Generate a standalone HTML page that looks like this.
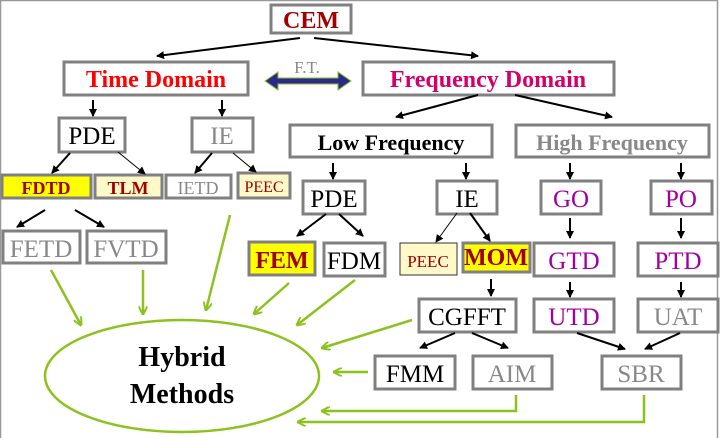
<!DOCTYPE html>
<html><head><meta charset="utf-8"><style>
html,body{margin:0;padding:0;background:#fff;width:720px;height:438px;overflow:hidden}
svg, svg text{font-family:"Liberation Serif","Times New Roman","DejaVu Serif","Noto Serif CJK SC",serif}
</style></head><body>
<svg width="720" height="438" viewBox="0 0 720 438" xmlns="http://www.w3.org/2000/svg">
<defs>
<marker id="a" markerWidth="8" markerHeight="8" refX="7" refY="4" orient="auto" markerUnits="userSpaceOnUse"><path d="M0,0 L8,4 L0,8 Z" fill="#000"/></marker>
<marker id="g" markerWidth="9" markerHeight="9" refX="8" refY="4.5" orient="auto" markerUnits="userSpaceOnUse"><path d="M0,0 L9,4.5 L0,9" fill="none" stroke="#8cc21e" stroke-width="2"/></marker>
</defs>
<rect x="0.5" y="0.5" width="717" height="440" fill="none" stroke="#999" stroke-width="1.5"/>
<g fill="#fff" stroke="#808080" stroke-width="3">
<rect x="271" y="5" width="80" height="28"/>
<rect x="64" y="62" width="184" height="33"/>
<rect x="363" y="62" width="251" height="33"/>
<rect x="59" y="118" width="66" height="34"/>
<rect x="192" y="118" width="61" height="34"/>
<rect x="2" y="175" width="89" height="23" fill="#ffff00"/>
<rect x="95" y="175" width="67" height="23" fill="#fff8c8"/>
<rect x="166" y="175" width="65" height="23"/>
<rect x="238" y="173" width="52" height="25" fill="#fff8c8"/>
<rect x="290" y="125" width="202" height="32"/>
<rect x="516" y="125" width="193" height="32"/>
<rect x="303" y="181" width="62" height="33"/>
<rect x="437" y="181" width="60" height="33"/>
<rect x="541" y="181" width="60" height="33"/>
<rect x="651" y="181" width="61" height="33"/>
<rect x="249" y="242" width="66" height="33" fill="#ffff00"/>
<rect x="324" y="243" width="61" height="33"/>
<rect x="463" y="243" width="67" height="29" fill="#ffff00"/>
<rect x="534" y="243" width="80" height="33"/>
<rect x="638" y="243" width="80" height="33"/>
<rect x="419" y="299" width="97" height="33"/>
<rect x="534" y="299" width="80" height="33"/>
<rect x="638" y="299" width="80" height="33"/>
<rect x="375" y="356" width="80" height="33"/>
<rect x="473" y="356" width="79" height="33"/>
<rect x="602" y="356" width="79" height="33"/>
<rect x="3" y="231" width="77" height="32"/>
<rect x="87" y="231" width="79" height="32"/>
</g>
<rect x="400" y="243" width="57" height="32" fill="#fff8c8" stroke="#333" stroke-width="1"/>
<ellipse cx="182" cy="376" rx="137" ry="56" fill="none" stroke="#8cc21e" stroke-width="2.5"/>
<g text-anchor="middle" font-size="24">
<text x="311" y="28" fill="#a00000" font-weight="bold">CEM</text>
<text x="156" y="87" fill="#ff0000" font-weight="bold">Time Domain</text>
<text x="488" y="87" fill="#d4006a" font-weight="bold">Frequency Domain</text>
<text x="307" y="73" fill="#888" font-size="17">F.T.</text>
<text x="92" y="144" fill="#000" font-size="25">PDE</text>
<text x="222" y="144" fill="#888" font-size="25">IE</text>
<text x="46" y="194" fill="#a00000" font-weight="bold" font-size="18">FDTD</text>
<text x="128" y="194" fill="#a00000" font-weight="bold" font-size="18">TLM</text>
<text x="198" y="194" fill="#888" font-size="18">IETD</text>
<text x="264" y="192" fill="#a00000" font-size="16">PEEC</text>
<text x="391" y="150" fill="#000" font-weight="bold" font-size="22">Low Frequency</text>
<text x="612" y="150" fill="#888" font-weight="bold" font-size="22">High Frequency</text>
<text x="334" y="207" fill="#000" font-size="25">PDE</text>
<text x="467" y="207" fill="#000" font-size="25">IE</text>
<text x="571" y="207" fill="#a000a0" font-size="25">GO</text>
<text x="681" y="207" fill="#a000a0" font-size="25">PO</text>
<text x="282" y="268" fill="#a00000" font-weight="bold">FEM</text>
<text x="354" y="269" fill="#000" font-size="25">FDM</text>
<text x="428" y="267" fill="#a00000" font-size="17">PEEC</text>
<text x="496" y="265" fill="#a00000" font-weight="bold">MOM</text>
<text x="574" y="269" fill="#a000a0" font-size="25">GTD</text>
<text x="678" y="269" fill="#a000a0" font-size="25">PTD</text>
<text x="467" y="325" fill="#000" font-size="25">CGFFT</text>
<text x="574" y="325" fill="#a000a0" font-size="25">UTD</text>
<text x="678" y="325" fill="#888" font-size="25">UAT</text>
<text x="415" y="382" fill="#000" font-size="25">FMM</text>
<text x="512" y="382" fill="#888" font-size="25">AIM</text>
<text x="641" y="382" fill="#888" font-size="25">SBR</text>
<text x="41" y="257" fill="#888" font-size="25">FETD</text>
<text x="126" y="257" fill="#888" font-size="25">FVTD</text>
<text x="182" y="366" fill="#000" font-weight="bold" font-size="28">Hybrid</text>
<text x="182" y="403" fill="#000" font-weight="bold" font-size="28">Methods</text>
</g>
<path d="M265,81 L278,72 L278,78 L338,78 L338,72 L351,81 L338,90 L338,84 L278,84 L278,90 Z" fill="#2a2a8c" stroke="#8cc21e" stroke-width="1"/>
<g stroke="#000" stroke-width="2" marker-end="url(#a)" fill="none">
<line x1="300" y1="38" x2="157" y2="56"/>
<line x1="314" y1="38" x2="478" y2="56"/>
<line x1="478" y1="95" x2="396" y2="117"/>
<line x1="515" y1="95" x2="612" y2="117"/>
<line x1="93" y1="100" x2="93" y2="116"/>
<line x1="222" y1="100" x2="222" y2="116"/>
<line x1="70" y1="153" x2="52" y2="173"/>
<line x1="118" y1="152" x2="145" y2="174" stroke-width="1"/>
<line x1="212" y1="153" x2="195" y2="173"/>
<line x1="233" y1="153" x2="256" y2="172" stroke-width="1"/>
<line x1="45" y1="210" x2="17" y2="227"/>
<line x1="75" y1="210" x2="104" y2="227"/>
<line x1="333" y1="163" x2="333" y2="179"/>
<line x1="466" y1="163" x2="466" y2="179"/>
<line x1="570" y1="163" x2="570" y2="179"/>
<line x1="681" y1="163" x2="681" y2="179"/>
<line x1="326" y1="214" x2="297" y2="236"/>
<line x1="339" y1="214" x2="363" y2="236"/>
<line x1="457" y1="213" x2="436" y2="242" stroke-width="1"/>
<line x1="470" y1="213" x2="490" y2="241"/>
<line x1="570" y1="218" x2="570" y2="238"/>
<line x1="681" y1="218" x2="681" y2="238"/>
<line x1="491" y1="279" x2="491" y2="296"/>
<line x1="570" y1="282" x2="570" y2="297"/>
<line x1="681" y1="282" x2="681" y2="297"/>
<line x1="455" y1="333" x2="420" y2="348"/>
<line x1="472" y1="333" x2="508" y2="348"/>
<line x1="577" y1="333" x2="625" y2="349"/>
<line x1="680" y1="333" x2="645" y2="349"/>
</g>
<g stroke="#8cc21e" stroke-width="2.5" marker-end="url(#g)" fill="none">
<line x1="51" y1="270" x2="81" y2="325"/>
<line x1="143" y1="270" x2="143" y2="314"/>
<line x1="230" y1="215" x2="206" y2="310"/>
<line x1="289" y1="283" x2="254" y2="314"/>
<line x1="355" y1="280" x2="297" y2="325"/>
<line x1="412" y1="320" x2="322" y2="348"/>
<line x1="368" y1="372" x2="334" y2="372"/>
<polyline points="516,395 516,411 322,411"/>
<polyline points="644,395 644,422 298,422"/>
</g>
</svg>
</body></html>
